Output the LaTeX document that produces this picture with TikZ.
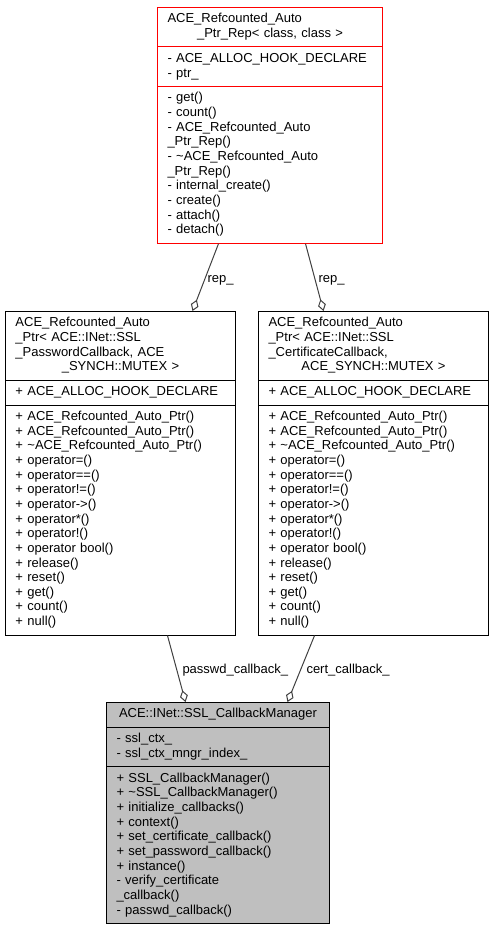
\documentclass[tikz,border=0pt]{standalone}
\usepackage{fontspec}
\setmainfont{Liberation Sans}
\usetikzlibrary{shapes.multipart,arrows.meta}
\definecolor{EdgeGray}{HTML}{404040}
\definecolor{FillGray}{HTML}{BFBFBF}
\definecolor{RedBorder}{HTML}{FF0000}
\setlength\parindent{0pt}
\newcommand\umlfont{\fontsize{13}{14.65}\selectfont}
\newcommand\mrow[1]{\strut#1\par}
\newcommand\crow[1]{{\centering\strut#1\par}}
\newcommand\nodeptrrep{%
\mrow{ACE\_Refcounted\_Auto}\crow{\_Ptr\_Rep< class, class >}%
\nodepart{second}\mrow{- ACE\_ALLOC\_HOOK\_DECLARE}\mrow{- ptr\_}%
\nodepart{third}\mrow{- get()}\mrow{- count()}\mrow{- ACE\_Refcounted\_Auto}%
\mrow{\_Ptr\_Rep()}\mrow{- \textasciitilde ACE\_Refcounted\_Auto}\mrow{\_Ptr\_Rep()}%
\mrow{- internal\_create()}\mrow{- create()}\mrow{- attach()}\mrow{- detach()}}
\newcommand\ptrmembers{%
\nodepart{second}\mrow{+ ACE\_ALLOC\_HOOK\_DECLARE}%
\nodepart{third}\mrow{+ ACE\_Refcounted\_Auto\_Ptr()}\mrow{+ ACE\_Refcounted\_Auto\_Ptr()}%
\mrow{+ \textasciitilde ACE\_Refcounted\_Auto\_Ptr()}\mrow{+ operator=()}\mrow{+ operator==()}%
\mrow{+ operator!=()}\mrow{+ operator->()}\mrow{+ operator*()}\mrow{+ operator!()}%
\mrow{+ operator bool()}\mrow{+ release()}\mrow{+ reset()}\mrow{+ get()}%
\mrow{+ count()}\mrow{+ null()}}
\newcommand\nodeptrpwd{%
\mrow{ACE\_Refcounted\_Auto}\mrow{\_Ptr< ACE::INet::SSL}\mrow{\_PasswordCallback, ACE}%
\crow{\_SYNCH::MUTEX >}\ptrmembers}
\newcommand\nodeptrcert{%
\mrow{ACE\_Refcounted\_Auto}\mrow{\_Ptr< ACE::INet::SSL}\mrow{\_CertificateCallback,}%
\crow{ACE\_SYNCH::MUTEX >}\ptrmembers}
\newcommand\nodemgr{%
\crow{ACE::INet::SSL\_CallbackManager}%
\nodepart{second}\mrow{- ssl\_ctx\_}\mrow{- ssl\_ctx\_mngr\_index\_}%
\nodepart{third}\mrow{+ SSL\_CallbackManager()}\mrow{+ \textasciitilde SSL\_CallbackManager()}%
\mrow{+ initialize\_callbacks()}\mrow{+ context()}\mrow{+ set\_certificate\_callback()}%
\mrow{+ set\_password\_callback()}\mrow{+ instance()}\mrow{- verify\_certificate}%
\mrow{\_callback()}\mrow{- passwd\_callback()}}
\tikzstyle{classbox} = [rectangle split, rectangle split parts=3, draw=black, fill=white, anchor=north west, inner xsep=10pt, inner ysep=4.6pt, align=left, font=\umlfont, text=black]
\tikzstyle{refbox} = [classbox, draw=RedBorder]
\tikzstyle{mainbox} = [classbox, fill=FillGray]
\tikzstyle{lbl} = [anchor=base west, inner sep=0pt, font=\umlfont]
\tikzstyle{agg} = [draw=EdgeGray, -{Diamond[open, length=12pt, width=8pt]}]
\tikzset{every picture/.style={line width=1pt}}
\begin{document}
\begin{tikzpicture}[x=1pt, y=-1pt]
\useasboundingbox (0,0) rectangle (493,931);
\node[refbox, text width=205pt] (rep) at (157,7) {\nodeptrrep};
\node[classbox, text width=210pt] (pwd) at (5,311) {\nodeptrpwd};
\node[classbox, text width=210pt] (cert) at (258,311) {\nodeptrcert};
\node[mainbox, text width=203pt] (mgr) at (106,702) {\nodemgr};
\draw[agg] ([xshift=-51.5pt]rep.south) -- ([xshift=72pt]pwd.north);
\draw[agg] ([xshift=35.5pt]rep.south) -- ([xshift=-50pt]cert.north);
\draw[agg] ([xshift=47pt]pwd.south) -- ([xshift=-32.5pt]mgr.north);
\draw[agg] ([xshift=-59pt]cert.south) -- ([xshift=69.5pt]mgr.north);
\node[lbl] (lrepl) at (207,282) {rep\_};
\node[lbl] (lrepr) at (318,282) {rep\_};
\node[lbl] (lpwd) at (182,673) {passwd\_callback\_};
\node[lbl] (lcert) at (306,673) {cert\_callback\_};
\end{tikzpicture}
\end{document}
